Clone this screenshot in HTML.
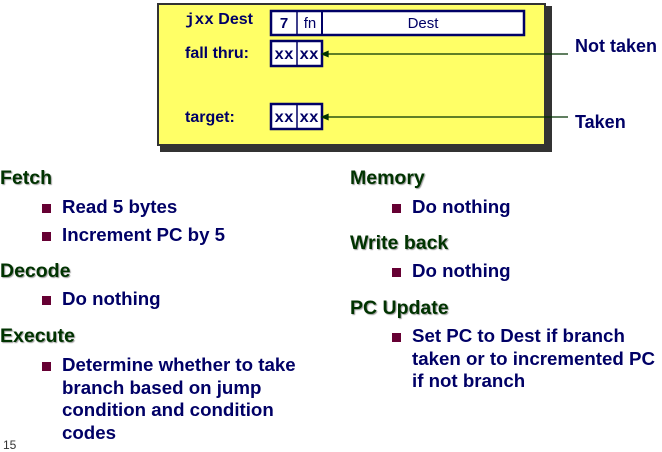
<!DOCTYPE html>
<html><head><meta charset="utf-8"><style>
body{margin:0;width:662px;height:447px;background:#fff;position:relative;overflow:hidden;font-family:"Liberation Sans",Arial,sans-serif;font-weight:bold}
.a{position:absolute;white-space:nowrap}
.h{font-size:19.5px;color:#003300;text-shadow:1px 1px 1px #999}
.t{font-size:18.7px;color:#000066;line-height:22.5px}
.b{position:absolute;width:9px;height:9px;background:#660033}
</style></head><body>
<div class="a" style="left:160px;top:6px;width:392px;height:146px;background:#333"></div>
<div class="a" style="left:157px;top:3px;width:389px;height:143px;background:#ffff66;border:2px solid #333;box-sizing:border-box"></div>
<div class="a" style="left:185px;top:11px;font-size:16px;color:#000066"><span style="font-family:'Liberation Mono',monospace">jxx</span> Dest</div>
<div class="a" style="left:185px;top:45px;font-size:16px;color:#000066">fall thru:</div>
<div class="a" style="left:185px;top:109px;font-size:16px;color:#000066">target:</div>
<svg class="a" style="left:0;top:0" width="662" height="447">
<g stroke="#000066" stroke-width="2.5" fill="#fff">
<rect x="271" y="11" width="253" height="24"/>
<line x1="297" y1="11" x2="297" y2="35" stroke-width="1.5"/>
<line x1="322" y1="11" x2="322" y2="35" stroke-width="2"/>
<rect x="271" y="41" width="51" height="25"/>
<line x1="297" y1="41" x2="297" y2="66" stroke-width="1.5"/>
<rect x="271" y="104" width="51" height="25"/>
<line x1="297" y1="104" x2="297" y2="129" stroke-width="1.5"/>
</g>
<g font-family="Liberation Sans" font-size="15" fill="#000066" text-anchor="middle">
<text x="284" y="28" font-weight="bold">7</text>
<text x="310" y="28" font-weight="normal">fn</text>
<text x="423" y="28" font-weight="normal">Dest</text>
</g>
<g font-family="Liberation Mono" font-size="16" fill="#000066" text-anchor="middle" font-weight="bold">
<text x="284" y="59">xx</text><text x="309" y="59">xx</text>
<text x="284" y="122">xx</text><text x="309" y="122">xx</text>
</g>
<g stroke="#003300" stroke-width="1.3" fill="#003300">
<line x1="325" y1="54" x2="568" y2="54"/><polygon points="322,54 328,51.5 328,56.5"/>
<line x1="325" y1="117" x2="568" y2="117"/><polygon points="322,117 328,114.5 328,119.5"/>
</g>
</svg>
<div class="a" style="left:575px;top:36px;font-size:18px;color:#000066">Not taken</div>
<div class="a" style="left:575px;top:112px;font-size:18px;color:#000066">Taken</div>

<div class="a h" style="left:0;top:167px">Fetch</div>
<div class="b" style="left:42px;top:204px"></div><div class="a t" style="left:62px;top:196px">Read 5 bytes</div>
<div class="b" style="left:42px;top:232px"></div><div class="a t" style="left:62px;top:224px">Increment PC by 5</div>
<div class="a h" style="left:0;top:260px">Decode</div>
<div class="b" style="left:42px;top:296px"></div><div class="a t" style="left:62px;top:288px">Do nothing</div>
<div class="a h" style="left:0;top:325px">Execute</div>
<div class="b" style="left:42px;top:362px"></div><div class="a t" style="left:62px;top:354px">Determine whether to take<br>branch based on jump<br>condition and condition<br>codes</div>
<div class="a" style="left:3px;top:438px;font-size:12px;color:#333;font-weight:normal">15</div>

<div class="a h" style="left:350px;top:167px">Memory</div>
<div class="b" style="left:392px;top:204px"></div><div class="a t" style="left:412px;top:196px">Do nothing</div>
<div class="a h" style="left:350px;top:232px">Write back</div>
<div class="b" style="left:392px;top:268px"></div><div class="a t" style="left:412px;top:260px">Do nothing</div>
<div class="a h" style="left:350px;top:297px">PC Update</div>
<div class="b" style="left:392px;top:333px"></div><div class="a t" style="left:412px;top:325px">Set PC to Dest if branch<br>taken or to incremented PC<br>if not branch</div>
</body></html>
